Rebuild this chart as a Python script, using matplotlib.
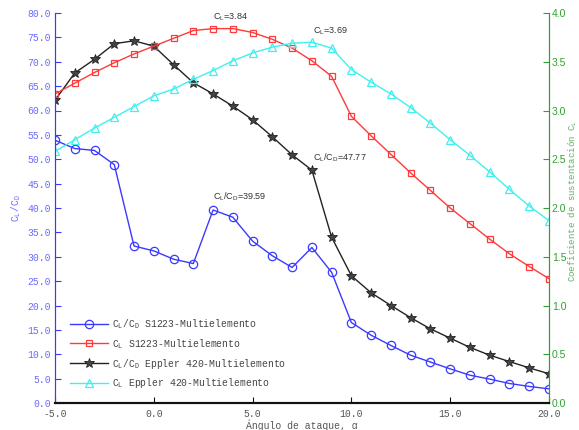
import numpy as np
import matplotlib
matplotlib.use("Agg")
import matplotlib.pyplot as plt

# Ángulo de ataque
alpha = list(range(-5, 21))

# C_L/C_D S1223-Multielemento (eje izquierdo)
clcd_s1223 = [53.9, 52.2, 51.8, 48.9, 32.2, 31.2, 29.5, 28.6, 39.59, 38.1,
              33.2, 30.2, 27.8, 31.9, 26.8, 16.5, 13.9, 11.8, 9.8, 8.4,
              7.0, 5.7, 4.9, 4.0, 3.4, 2.9]
# C_L/C_D Eppler 420-Multielemento (eje izquierdo)
clcd_e420 = [62.1, 67.7, 70.5, 73.7, 74.3, 73.2, 69.4, 65.7, 63.4, 60.9,
             58.1, 54.6, 50.9, 47.77, 34.0, 26.1, 22.6, 20.0, 17.5, 15.2,
             13.3, 11.4, 9.8, 8.5, 7.2, 6.0]
# C_L S1223-Multielemento (eje derecho)
cl_s1223 = [3.17, 3.28, 3.39, 3.49, 3.58, 3.66, 3.74, 3.82, 3.84, 3.84,
            3.80, 3.73, 3.64, 3.51, 3.35, 2.94, 2.74, 2.55, 2.36, 2.18,
            2.00, 1.84, 1.68, 1.53, 1.40, 1.275]
# C_L Eppler 420-Multielemento (eje derecho)
cl_e420 = [2.58, 2.70, 2.82, 2.93, 3.04, 3.15, 3.22, 3.32, 3.41, 3.51,
           3.59, 3.65, 3.69, 3.70, 3.64, 3.42, 3.29, 3.17, 3.03, 2.87,
           2.70, 2.54, 2.37, 2.19, 2.02, 1.87]

plt.rcParams['font.family'] = ['Liberation Mono', 'DejaVu Sans Mono']
plt.rcParams['font.size'] = 7

fig = plt.figure(figsize=(5.79, 4.30), dpi=100)
ax = fig.add_axes([55/579, 27/430, 494/579, 390/430])
ax2 = ax.twinx()

azul = '#3a3aff'
rojo = '#ff3a3a'
negro = '#222222'
cian = '#40f0f0'
verde = '#30a030'

l1, = ax.plot(alpha, clcd_s1223, color=azul, lw=1, marker='o', ms=6,
              mfc='none', mec=azul, mew=0.9)
l3, = ax.plot(alpha, clcd_e420, color=negro, lw=1, marker='*', ms=7,
              mfc='#444444', mec=negro, mew=0.6)
l2, = ax2.plot(alpha, cl_s1223, color=rojo, lw=1, marker='s', ms=4.8,
               mfc='none', mec=rojo, mew=0.9)
l4, = ax2.plot(alpha, cl_e420, color=cian, lw=1, marker='^', ms=6,
               mfc='none', mec=cian, mew=0.9)

ax.set_xlim(-5, 20)
ax.set_ylim(0, 80)
ax2.set_ylim(0, 4)
ax.set_xticks(np.arange(-5, 21, 5))
ax.set_yticks(np.arange(0, 81, 5))
ax2.set_yticks(np.arange(0, 4.01, 0.5))
ax.xaxis.set_major_formatter(matplotlib.ticker.FormatStrFormatter('%.1f'))
ax.yaxis.set_major_formatter(matplotlib.ticker.FormatStrFormatter('%.1f'))
ax2.yaxis.set_major_formatter(matplotlib.ticker.FormatStrFormatter('%.1f'))

for a in (ax, ax2):
    a.spines['top'].set_visible(False)
    a.spines['bottom'].set_color('#111111')
    a.spines['bottom'].set_linewidth(1.5)
    a.spines['left'].set_color(azul)
    a.spines['right'].set_color(verde)

ax.tick_params(axis='x', direction='in', length=4, colors='#555555', pad=4)
ax.tick_params(axis='x', color='#111111')
ax.tick_params(axis='y', direction='in', length=4, colors='#6a6aff', pad=3)
ax.tick_params(axis='y', color=azul)
ax2.tick_params(axis='y', direction='in', length=4, colors=verde, labelsize=7.5,
                pad=2, labelfontfamily='Liberation Sans')

ax.set_xlabel('Ángulo de ataque, α', color='#555555', labelpad=1)
ax.set_ylabel(r'$\mathregular{C_L/C_D}$', color='#6a6aff', labelpad=3)
ax2.set_ylabel(r'Coeficiente de sustentación $\mathregular{C_L}$',
               color='#60b060', fontsize=6.5, labelpad=0.3)
ax2.yaxis.label.set_y(0.518)

anot = dict(family='Liberation Sans', fontsize=6.5, color='#333333')
ax.text(3.0, 79.2, r'$\mathregular{C_L}$=3.84', va='center', **anot)
ax.text(8.05, 76.3, r'$\mathregular{C_L}$=3.69', va='center', **anot)
ax.text(8.05, 50.3, r'$\mathregular{C_L/C_D}$=47.77', va='center', **anot)
ax.text(3.0, 42.3, r'$\mathregular{C_L/C_D}$=39.59', va='center', **anot)

etiquetas = [r'$\mathregular{C_L/C_D}$ S1223-Multielemento',
             r'$\mathregular{C_L}$ S1223-Multielemento',
             r'$\mathregular{C_L/C_D}$ Eppler 420-Multielemento',
             r'$\mathregular{C_L}$ Eppler 420-Multielemento']
leg = ax2.legend([l1, l2, l3, l4], etiquetas, loc='lower left',
                 bbox_to_anchor=(0.012, 0.01), frameon=False, fontsize=7,
                 handlelength=3.9, handletextpad=0.5, labelspacing=0.6)
for t in leg.get_texts():
    t.set_color('#444444')

fig.savefig('out.png', dpi=100)
